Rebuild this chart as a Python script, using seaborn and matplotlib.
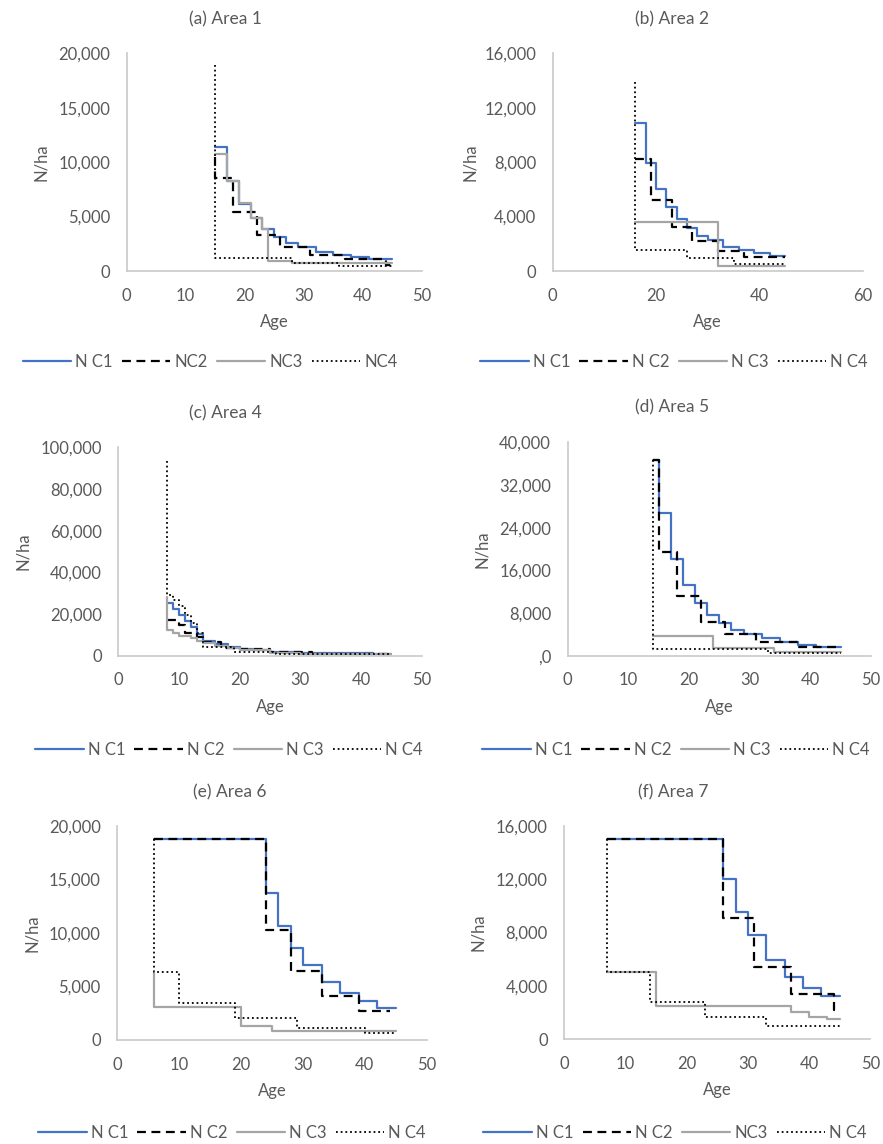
import matplotlib
matplotlib.use("Agg")
import matplotlib.pyplot as plt
import pandas as pd
import seaborn as sns

# ---- data (step curves: value holds from age[i] to age[i+1]) ----
A1_C1_AGE = [15, 17, 19, 21, 23, 25, 27, 29, 32, 35, 38, 41, 45]
A1_C1_N = [11400, 8300, 6200, 4850, 3850, 3150, 2550, 2180, 1780, 1470, 1260, 1130, 1130]
A1_C2_AGE = [15, 15, 18, 22, 26, 31, 37, 44, 45]
A1_C2_N = [10500, 8500, 5450, 3300, 2200, 1470, 1075, 550, 550]
A1_C3_AGE = [15, 17, 19, 21, 23, 24, 28, 45]
A1_C3_N = [10750, 8300, 6220, 4840, 3830, 920, 700, 700]
A1_C4_AGE = [15, 15, 28, 36, 45]
A1_C4_N = [18900, 1200, 700, 460, 460]

A2_C1_AGE = [16, 18, 20, 22, 24, 26, 28, 30, 33, 36, 39, 42, 45]
A2_C1_N = [10850, 7960, 6030, 4730, 3800, 3140, 2600, 2280, 1790, 1540, 1300, 1100, 1100]
A2_C2_AGE = [16, 19, 23, 27, 32, 37, 45]
A2_C2_N = [8200, 5220, 3200, 2230, 1490, 1050, 1050]
A2_C3_AGE = [16, 32, 45]
A2_C3_N = [3630, 390, 390]
A2_C4_AGE = [16, 16, 26, 35, 45]
A2_C4_N = [13900, 1540, 930, 490, 490]

A4_C1_AGE = [8, 9, 10, 11, 12, 13, 14, 16, 18, 20, 22, 25, 30, 42, 45]
A4_C1_N = [25100, 22400, 19500, 16800, 13600, 10500, 7200, 5600, 4300, 3300, 2600, 1900, 1300, 800, 800]
A4_C2_AGE = [8, 10, 11, 13, 14, 17, 20, 25, 32, 45]
A4_C2_N = [17100, 14700, 11000, 9000, 6600, 3700, 3000, 1800, 900, 900]
A4_C3_AGE = [8, 8, 9, 10, 12, 13, 14, 16, 18, 20, 25, 30, 45]
A4_C3_N = [28000, 12300, 10800, 9500, 8700, 7200, 6000, 4800, 3500, 2500, 1200, 700, 700]
A4_C4_AGE = [8, 8, 9, 10, 11, 12, 13, 14, 19, 26, 45]
A4_C4_N = [93600, 29100, 26500, 24000, 19500, 15500, 10700, 4000, 1900, 800, 800]

A5_C1_AGE = [14, 15, 17, 19, 21, 23, 25, 27, 29, 32, 35, 38, 41, 45]
A5_C1_N = [36600, 26700, 18100, 13250, 9800, 7600, 6200, 4800, 4000, 3250, 2500, 2000, 1700, 1700]
A5_C2_AGE = [14, 15, 18, 22, 26, 31, 38, 45]
A5_C2_N = [36600, 19400, 11200, 6300, 4000, 2600, 1700, 1700]
A5_C3_AGE = [14, 24, 34, 45]
A5_C3_N = [3690, 1370, 700, 700]
A5_C4_AGE = [14, 14, 33, 45]
A5_C4_N = [36600, 1190, 570, 570]

A6_C1_AGE = [6, 24, 26, 28, 30, 33, 36, 39, 42, 45]
A6_C1_N = [18780, 13700, 10700, 8570, 7040, 5450, 4360, 3610, 2960, 2960]
A6_C2_AGE = [6, 24, 28, 33, 39, 44]
A6_C2_N = [18780, 10280, 6420, 4140, 2710, 2710]
A6_C3_AGE = [6, 6, 20, 25, 45]
A6_C3_N = [6300, 3050, 1340, 870, 870]
A6_C4_AGE = [6, 6, 10, 19, 29, 40, 45]
A6_C4_N = [18780, 6350, 3430, 2020, 1090, 690, 690]

A7_C1_AGE = [7, 26, 28, 30, 33, 36, 39, 42, 45]
A7_C1_N = [15000, 12000, 9560, 7810, 5940, 4690, 3820, 3240, 3240]
A7_C2_AGE = [7, 26, 31, 37, 44, 45]
A7_C2_N = [15000, 9060, 5390, 3370, 2200, 2200]
A7_C3_AGE = [7, 15, 37, 40, 43, 45]
A7_C3_N = [5020, 2500, 2070, 1700, 1520, 1520]
A7_C4_AGE = [7, 7, 14, 23, 33, 45]
A7_C4_N = [15000, 5020, 2820, 1650, 1020, 1020]

TITLES = ["(a) Area 1", "(b) Area 2", "(c) Area 4", "(d) Area 5", "(e) Area 6", "(f) Area 7"]
LEGEND_LABELS = [
    ["N C1", "NC2", "NC3", "NC4"],
    ["N C1", "N C2", "N C3", "N C4"],
    ["N C1", "N C2", "N C3", "N C4"],
    ["N C1", "N C2", "N C3", "N C4"],
    ["N C1", "N C2", "N C3", "N C4"],
    ["N C1", "N C2", "NC3", "N C4"],
]
X_MAX = [50, 60, 50, 50, 50, 50]
X_STEP = [10, 20, 10, 10, 10, 10]
Y_MAX = [20000, 16000, 100000, 40000, 20000, 16000]
Y_STEP = [5000, 4000, 20000, 8000, 5000, 4000]
ZERO_LABEL = ["0", "0", "0", ",0", "0", "0"]

SERIES_DATA = [
    [(A1_C1_AGE, A1_C1_N), (A1_C2_AGE, A1_C2_N), (A1_C3_AGE, A1_C3_N), (A1_C4_AGE, A1_C4_N)],
    [(A2_C1_AGE, A2_C1_N), (A2_C2_AGE, A2_C2_N), (A2_C3_AGE, A2_C3_N), (A2_C4_AGE, A2_C4_N)],
    [(A4_C1_AGE, A4_C1_N), (A4_C2_AGE, A4_C2_N), (A4_C3_AGE, A4_C3_N), (A4_C4_AGE, A4_C4_N)],
    [(A5_C1_AGE, A5_C1_N), (A5_C2_AGE, A5_C2_N), (A5_C3_AGE, A5_C3_N), (A5_C4_AGE, A5_C4_N)],
    [(A6_C1_AGE, A6_C1_N), (A6_C2_AGE, A6_C2_N), (A6_C3_AGE, A6_C3_N), (A6_C4_AGE, A6_C4_N)],
    [(A7_C1_AGE, A7_C1_N), (A7_C2_AGE, A7_C2_N), (A7_C3_AGE, A7_C3_N), (A7_C4_AGE, A7_C4_N)],
]

# ---- layout (pixel positions in the 883x1144 canvas) ----
W, H = 883, 1144
AX_BOXES = [  # left, top, right, bottom of the plot area
    (126.7, 53.3, 421.7, 271.0),
    (552.7, 53.3, 862.7, 271.0),
    (118.3, 447.3, 421.7, 655.7),
    (567.7, 442.3, 871.0, 655.7),
    (117.3, 826.0, 426.7, 1040.0),
    (564.3, 825.7, 870.3, 1039.3),
]
TITLE_POS = [(225, 24), (672, 24), (225, 418), (672, 412.7), (230, 797.7), (673, 797.7)]
LEGEND_POS = [(210, 362), (674, 362), (229, 750), (676, 750), (232, 1133), (675, 1133)]
YLABEL_OFFSET = [78, 75, 87, 78, 77, 78]
XLABEL_OFFSET = 43

TEXT_COLOR = "#595959"
SPINE_COLOR = "#c9c9c9"
STYLES = [
    dict(color="#4472C4", linewidth=1.6, linestyle="-"),
    dict(color="black", linewidth=1.6, linestyle=(0, (4, 2.5))),
    dict(color="#A5A5A5", linewidth=1.6, linestyle="-"),
    dict(color="black", linewidth=1.3, linestyle=(0, (1, 1.6))),
]


def fmt_tick(v, zero_label):
    if v == 0:
        return zero_label
    return f"{v:,.0f}"


def draw_panel(fig, i):
    left, top, right, bottom = AX_BOXES[i]
    ax = fig.add_axes([left / W, 1 - bottom / H, (right - left) / W, (bottom - top) / H])

    rows = []
    for k, (ages, vals) in enumerate(SERIES_DATA[i]):
        rows.append(pd.DataFrame({"age": ages, "n": vals, "series": f"C{k + 1}"}))
    df = pd.concat(rows, ignore_index=True)

    for k, label in enumerate(LEGEND_LABELS[i]):
        sub = df[df["series"] == f"C{k + 1}"]
        sns.lineplot(
            data=sub, x="age", y="n", ax=ax,
            estimator=None, sort=False, legend=False,
            drawstyle="steps-post", label=label, **STYLES[k]
        )

    ax.set_xlim(0, X_MAX[i])
    ax.set_ylim(0, Y_MAX[i])
    xt = list(range(0, X_MAX[i] + 1, X_STEP[i]))
    yt = list(range(0, Y_MAX[i] + 1, Y_STEP[i]))
    ax.set_xticks(xt)
    ax.set_xticklabels([str(v) for v in xt])
    ax.set_yticks(yt)
    ax.set_yticklabels([fmt_tick(v, ZERO_LABEL[i]) for v in yt])
    ax.tick_params(length=0, labelsize=12, colors=TEXT_COLOR, pad=12)

    for side in ["top", "right"]:
        ax.spines[side].set_visible(False)
    for side in ["left", "bottom"]:
        ax.spines[side].set_color(SPINE_COLOR)
        ax.spines[side].set_linewidth(1.2)

    w_px = right - left
    h_px = bottom - top
    ax.set_xlabel("Age", fontsize=12, color=TEXT_COLOR)
    ax.set_ylabel("N/ha", fontsize=12, color=TEXT_COLOR)
    ax.xaxis.set_label_coords(0.5, -XLABEL_OFFSET / h_px)
    ax.yaxis.set_label_coords(-YLABEL_OFFSET[i] / w_px, 0.5)

    tx, ty = TITLE_POS[i]
    fig.text(tx / W, 1 - ty / H, TITLES[i], ha="center", va="baseline",
             fontsize=12.5, color=TEXT_COLOR)

    handles, labels = ax.get_legend_handles_labels()
    lx, ly = LEGEND_POS[i]
    fig.legend(handles, labels, loc="center", bbox_to_anchor=(lx / W, 1 - ly / H),
               ncol=4, frameon=False, fontsize=12, handlelength=2.9,
               handletextpad=0.25, columnspacing=0.55, labelcolor=TEXT_COLOR)


def main():
    sns.set_theme(style="white")
    plt.rcParams["font.family"] = ["Lato", "DejaVu Sans"]

    fig = plt.figure(figsize=(W / 100, H / 100), dpi=100)
    for i in range(6):
        draw_panel(fig, i)
    fig.savefig("out.png", dpi=100)
    plt.close(fig)


if __name__ == "__main__":
    main()
